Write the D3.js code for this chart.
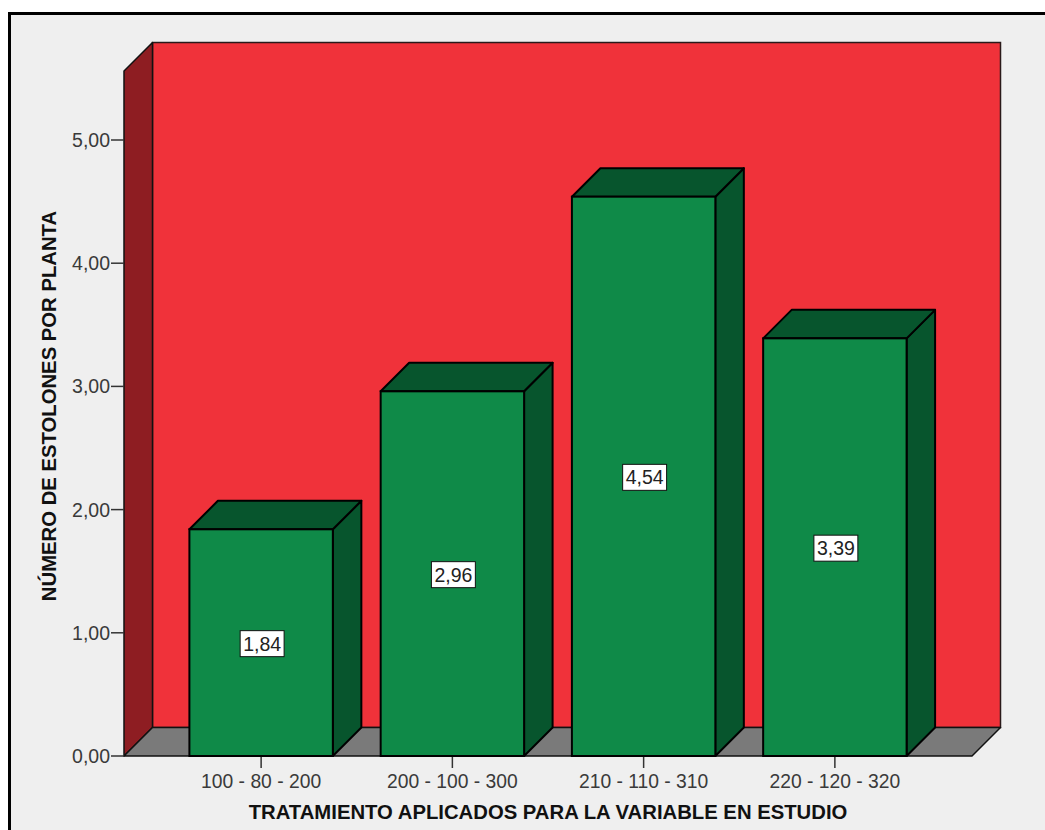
<!DOCTYPE html>
<html lang="es">
    <head>
        <meta charset="utf-8">
        <title>Número de estolones por planta</title>
        <style>
            body {
                margin: 0;
                background-color: #ffffff;
            }
            svg {
                display: block;
                font-family: "Liberation Sans", Arial, sans-serif;
            }
        </style>
        <script src="https://d3js.org/d3.v7.min.js"></script>
    </head>
    <body>
    <script>

        // data
        let tratamientos = ["100 - 80 - 200", "200 - 100 - 300", "210 - 110 - 310", "220 - 120 - 320"]
        let estolones = [1.84, 2.96, 4.54, 3.39]
        let yTicks = [0, 1, 2, 3, 4, 5]
        let yMax = 5.56

        let width = 1045
        let height = 830
        let depth = 28.5
        let baseY = 756
        let leftX = 124
        let rightX = 972

        let svg = d3.select("body")
            .append("svg")
            .attr("width", width)
            .attr("height", height)

        // grey panel with the black frame
        svg.append("rect")
            .attr("x", 9.5)
            .attr("y", 13.5)
            .attr("width", 1100)
            .attr("height", 900)
            .attr("fill", "#efefef")
            .attr("stroke", "#000")
            .attr("stroke-width", 3)

        let yScale = d3.scaleLinear()
            .domain([0, 5])
            .range([baseY, 140])

        let xScale = d3.scalePoint()
            .domain(tratamientos)
            .range([leftX, rightX])
            .padding(0.717)

        let barWidth = xScale.step() * 0.75
        let yTop = yScale(yMax)

        // back wall
        svg.append("rect")
            .attr("x", leftX + depth)
            .attr("y", yTop - depth)
            .attr("width", rightX - leftX)
            .attr("height", baseY - yTop)
            .attr("fill", "#f0323a")
            .attr("stroke", "#2a1a1a")
            .attr("stroke-width", 1.5)

        // left wall
        svg.append("polygon")
            .attr("points", [
                [leftX, baseY], [leftX, yTop], [leftX + depth, yTop - depth], [leftX + depth, baseY - depth]
            ].map(p => p.join(",")).join(" "))
            .attr("fill", "#8e1d22")
            .attr("stroke", "#111")
            .attr("stroke-width", 1.5)
            .attr("stroke-linejoin", "round")

        // floor
        svg.append("polygon")
            .attr("points", [
                [leftX, baseY], [rightX, baseY], [rightX + depth, baseY - depth], [leftX + depth, baseY - depth]
            ].map(p => p.join(",")).join(" "))
            .attr("fill", "#7a7a7a")
            .attr("stroke", "#111")
            .attr("stroke-width", 1.5)
            .attr("stroke-linejoin", "round")

        // y axis ticks
        let yAxis = svg.append("g").attr("id", "y-axis")
        yTicks.forEach(t => {
            yAxis.append("line")
                .attr("x1", leftX - 13)
                .attr("x2", leftX)
                .attr("y1", yScale(t))
                .attr("y2", yScale(t))
                .attr("stroke", "#333")
                .attr("stroke-width", 1.5)
            yAxis.append("text")
                .attr("x", leftX - 14)
                .attr("y", yScale(t))
                .attr("dy", "0.36em")
                .attr("text-anchor", "end")
                .attr("font-size", 19.5)
                .attr("fill", "#3a3a3a")
                .text(d3.format(".2f")(t).replace(".", ","))
        })

        // x axis ticks
        let xAxis = svg.append("g").attr("id", "x-axis")
        tratamientos.forEach(c => {
            xAxis.append("line")
                .attr("x1", xScale(c))
                .attr("x2", xScale(c))
                .attr("y1", baseY)
                .attr("y2", baseY + 12)
                .attr("stroke", "#333")
                .attr("stroke-width", 1.5)
            xAxis.append("text")
                .attr("x", xScale(c))
                .attr("y", 788)
                .attr("text-anchor", "middle")
                .attr("font-size", 19.3)
                .attr("fill", "#3a3a3a")
                .text(c)
        })

        // 3d bars
        let bars = svg.selectAll(".bar")
            .data(tratamientos.map((c, i) => ({ cat: c, val: estolones[i] })))
            .enter()
            .append("g")
            .attr("class", "bar")

        bars.each(function (d) {
            let g = d3.select(this)
            let x0 = xScale(d.cat) - barWidth / 2
            let x1 = x0 + barWidth
            let yv = yScale(d.val)
            let pts = arr => arr.map(p => p.join(",")).join(" ")

            g.append("polygon")
                .attr("points", pts([[x1, baseY], [x1, yv], [x1 + depth, yv - depth], [x1 + depth, baseY - depth]]))
                .attr("fill", "#07552d")
                .attr("stroke", "#000")
                .attr("stroke-width", 2)
                .attr("stroke-linejoin", "round")

            g.append("polygon")
                .attr("points", pts([[x0, yv], [x0 + depth, yv - depth], [x1 + depth, yv - depth], [x1, yv]]))
                .attr("fill", "#07552d")
                .attr("stroke", "#000")
                .attr("stroke-width", 2)
                .attr("stroke-linejoin", "round")

            g.append("rect")
                .attr("x", x0)
                .attr("y", yv)
                .attr("width", barWidth)
                .attr("height", baseY - yv)
                .attr("fill", "#0f8a48")
                .attr("stroke", "#000")
                .attr("stroke-width", 2)

            // value label
            let cy = (yv + baseY) / 2
            let box = g.append("rect")
            let txt = g.append("text")
                .attr("x", xScale(d.cat) + 1)
                .attr("y", cy + 1)
                .attr("dy", "0.36em")
                .attr("text-anchor", "middle")
                .attr("font-size", 19.5)
                .attr("fill", "#222")
                .text(d3.format(".2f")(d.val).replace(".", ","))
            let w = txt.node().getComputedTextLength() + 6
            box.attr("x", xScale(d.cat) + 1 - w / 2)
                .attr("y", cy - 12)
                .attr("width", w)
                .attr("height", 26)
                .attr("fill", "#fff")
                .attr("stroke", "#111")
                .attr("stroke-width", 1)
        })

        // axis titles
        svg.append("text")
            .attr("x", 548)
            .attr("y", 819)
            .attr("text-anchor", "middle")
            .attr("font-size", 20.3)
            .attr("font-weight", "bold")
            .attr("fill", "#111")
            .text("TRATAMIENTO APLICADOS PARA LA VARIABLE EN ESTUDIO")

        svg.append("text")
            .attr("transform", "translate(56,406) rotate(-90)")
            .attr("text-anchor", "middle")
            .attr("font-size", 20.3)
            .attr("font-weight", "bold")
            .attr("fill", "#111")
            .text("NÚMERO DE ESTOLONES POR PLANTA")

    </script>
    </body>
</html>
